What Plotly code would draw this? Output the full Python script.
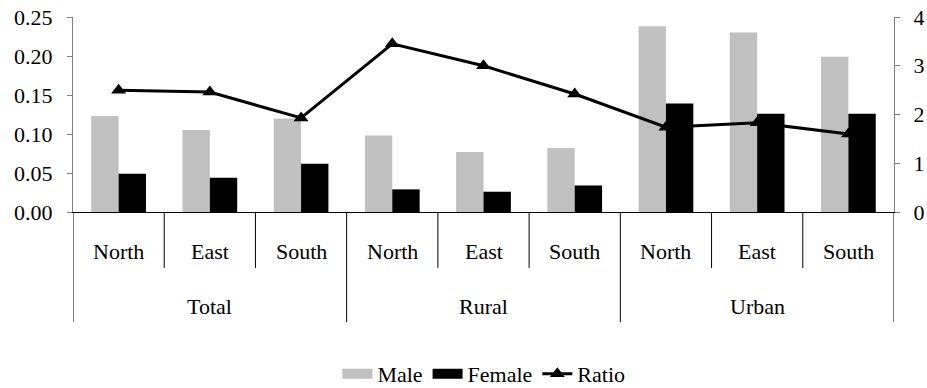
import plotly.graph_objects as go

groups = ["Total", "Rural", "Urban"]
regions = ["North", "East", "South"]
male = [0.123, 0.105, 0.120, 0.098, 0.077, 0.082, 0.238, 0.230, 0.199]
female = [0.049, 0.044, 0.062, 0.029, 0.026, 0.034, 0.139, 0.126, 0.126]
ratio = [2.50, 2.46, 1.93, 3.45, 3.00, 2.42, 1.74, 1.83, 1.60]

n = len(male)
xs = list(range(n))
FONT = "Liberation Serif"
FS = 22
MALE_C = "#C0C0C0"
FEMALE_C = "#000000"

fig = go.Figure()
fig.add_trace(go.Bar(x=xs, y=male, name="Male", showlegend=False,
                     marker=dict(color=MALE_C, line=dict(width=0))))
fig.add_trace(go.Bar(x=xs, y=female, name="Female", showlegend=False,
                     marker=dict(color=FEMALE_C, line=dict(width=0))))
# legend swatches (wide rectangles like the original)
fig.add_trace(go.Scatter(x=[None], y=[None], name="Male", mode="lines",
                         line=dict(color=MALE_C, width=17), hoverinfo="skip"))
fig.add_trace(go.Scatter(x=[None], y=[None], name="Female", mode="lines",
                         line=dict(color=FEMALE_C, width=17), hoverinfo="skip"))
fig.add_trace(go.Scatter(x=xs, y=ratio, name="Ratio", yaxis="y2", mode="lines+markers",
                         line=dict(color="black", width=3),
                         marker=dict(symbol="triangle-up", size=13, color="black")))

annotations = []
shapes = []
ng = len(regions)
for gi, g in enumerate(groups):
    for ri, r in enumerate(regions):
        i = gi * ng + ri
        annotations.append(dict(x=i, y=-0.205, xref="x", yref="paper", text=r, showarrow=False,
                                xanchor="center", yanchor="middle",
                                font=dict(family=FONT, size=FS, color="black")))
    annotations.append(dict(x=gi * ng + (ng - 1) / 2, y=-0.487, xref="x", yref="paper", text=g,
                            showarrow=False, xanchor="center", yanchor="middle",
                            font=dict(family=FONT, size=FS, color="black")))
for b in range(n + 1):
    outer = b % ng == 0
    shapes.append(dict(type="line", xref="x", yref="paper", x0=b - 0.5, x1=b - 0.5,
                       y0=0, y1=-0.564 if outer else -0.287,
                       line=dict(color="#000000", width=1)))

fig.update_layout(
    width=927, height=388,
    margin=dict(l=73, r=33, t=17, b=176, autoexpand=False),
    paper_bgcolor="white", plot_bgcolor="white",
    font=dict(family=FONT, size=FS, color="black"),
    barmode="group", bargap=0.4, bargroupgap=0,
    showlegend=True,
    legend=dict(orientation="h", x=0.522, xanchor="center", xref="container",
                y=0.036, yanchor="middle", yref="container", itemwidth=30,
                font=dict(family=FONT, size=FS), tracegroupgap=0),
    xaxis=dict(range=[-0.5, n - 0.5], showticklabels=False, ticks="", showgrid=False,
               zeroline=False, showline=True, linecolor="#000000", linewidth=1, automargin=False),
    yaxis=dict(range=[0, 0.25], dtick=0.05, tickformat=".2f", showgrid=False,
               showline=True, linecolor="#808080", linewidth=1, ticks="outside",
               ticklen=5, tickcolor="#808080", zeroline=False, automargin=False,
               ticklabelstandoff=10, tickfont=dict(family=FONT, size=FS)),
    yaxis2=dict(range=[0, 4], dtick=1, overlaying="y", side="right", showgrid=False,
                showline=True, linecolor="#808080", linewidth=1, ticks="outside",
                ticklen=5, tickcolor="#808080", zeroline=False, automargin=False,
                ticklabelstandoff=9, tickfont=dict(family=FONT, size=FS)),
    annotations=annotations,
    shapes=shapes,
)

fig.write_html("out.html", config={"displayModeBar": False},
               post_script="document.body.style.margin='0';document.body.style.overflow='hidden';")
